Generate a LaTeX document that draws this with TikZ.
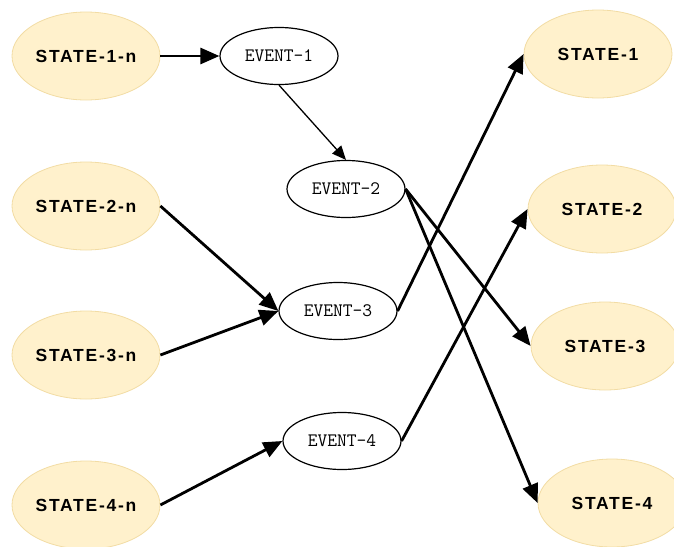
\documentclass[tikz,border=0pt]{standalone}
\usepackage{fontspec}
\setsansfont{Liberation Sans}
\newfontfamily\statefont[LetterSpace=10]{Liberation Sans}
\usetikzlibrary{shapes.geometric,arrows.meta}
\definecolor{statefill}{HTML}{FFF1CC}
\definecolor{stateline}{HTML}{F2DCA4}
\tikzset{
  statenode/.style={ellipse, fill=statefill, draw=stateline, line width=0.8pt,
    minimum width=148pt, minimum height=88pt, inner sep=0pt,
    font=\statefont\bfseries\fontsize{17.5}{19}\selectfont},
  eventnode/.style={ellipse, draw=black, line width=1.2pt, fill=white,
    minimum width=118pt, minimum height=57pt, inner sep=0pt,
    font=\ttfamily\fontsize{19}{21}\selectfont},
  bigflow/.style={line width=2.8pt, -{Triangle[length=19pt,width=16pt]}},
  thinflow/.style={line width=1.3pt, -{Triangle[length=14pt,width=12pt]}}
}
\begin{document}
\begin{tikzpicture}[x=1pt,y=-1pt]
\useasboundingbox (0,0) rectangle (674,546);
% source states
\node[statenode] (s1n) at (86,56) {STATE-1-n};
\node[statenode] (s2n) at (86,206) {STATE-2-n};
\node[statenode] (s3n) at (86,355) {STATE-3-n};
\node[statenode] (s4n) at (86,505) {STATE-4-n};
% events
\node[eventnode] (e1) at (279,56) {EVENT-1};
\node[eventnode] (e2) at (346,189) {EVENT-2};
\node[eventnode] (e3) at (338,311) {EVENT-3};
\node[eventnode] (e4) at (342,441) {EVENT-4};
% target states
\node[statenode] (t1) at (598,54) {STATE-1};
\node[statenode] (t2) at (602,209) {STATE-2};
\node[statenode] (t3) at (605,346) {STATE-3};
\node[statenode] (t4) at (612,503) {STATE-4};
% transitions
\draw[bigflow] (s1n.east) -- (e1.west);
\draw[thinflow] (e1.south) -- (e2.north);
\draw[bigflow] (s2n.east) -- (e3.west);
\draw[bigflow] (s3n.east) -- (e3.west);
\draw[bigflow] (s4n.east) -- (e4.west);
\draw[bigflow] (e3.east) -- (t1.west);
\draw[bigflow] (e4.east) -- (t2.west);
\draw[bigflow] (e2.east) -- (t3.west);
\draw[bigflow] (e2.east) -- (t4.west);
\end{tikzpicture}
\end{document}
